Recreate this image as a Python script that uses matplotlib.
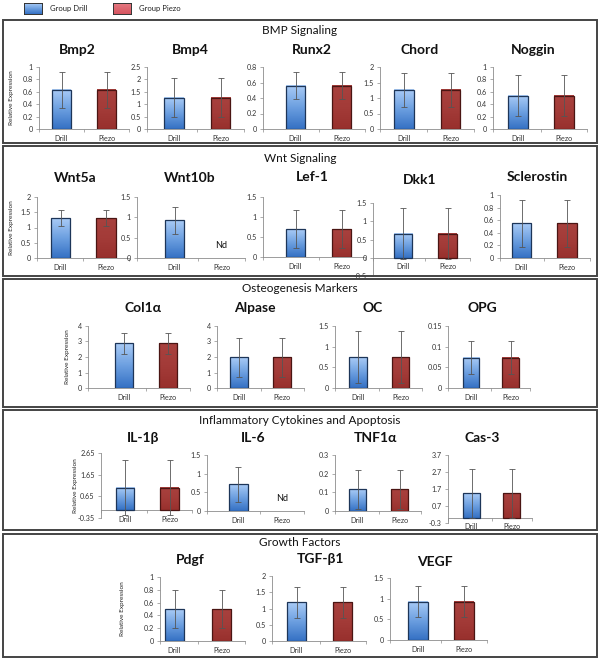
import numpy as np
import matplotlib.pyplot as plt
from matplotlib.patches import Rectangle
from matplotlib.colors import LinearSegmentedColormap

plt.rcParams['font.family'] = ['Lato', 'DejaVu Sans']

# ---- data ----
groups = ['Drill', 'Piezo']
legend_labels = ['Group Drill', 'Group Piezo']
sections = ['BMP Signaling', 'Wnt Signaling', 'Osteogenesis Markers',
            'Inflammatory Cytokines and Apoptosis', 'Growth Factors']

genes = [['Bmp2', 'Bmp4', 'Runx2', 'Chord', 'Noggin'],
         ['Wnt5a', 'Wnt10b', 'Lef-1', 'Dkk1', 'Sclerostin'],
         ['Col1α', 'Alpase', 'OC', 'OPG'],
         ['IL-1β', 'IL-6', 'TNF1α', 'Cas-3'],
         ['Pdgf', 'TGF-β1', 'VEGF']]

drill = [[0.63, 1.27, 0.56, 1.26, 0.54],
         [1.31, 0.93, 0.70, 0.66, 0.55],
         [2.90, 1.97, 0.74, 0.073],
         [1.05, 0.71, 0.116, 1.45],
         [0.50, 1.19, 0.93]]
drill_err = [[0.29, 0.78, 0.17, 0.55, 0.33],
             [0.27, 0.33, 0.47, 0.70, 0.37],
             [0.68, 1.28, 0.63, 0.040],
             [1.27, 0.48, 0.104, 1.43],
             [0.30, 0.47, 0.38]]
# None = not detected (Nd)
piezo = [[0.63, 1.27, 0.56, 1.26, 0.54],
         [1.31, None, 0.70, 0.66, 0.55],
         [2.90, 1.97, 0.74, 0.073],
         [1.05, None, 0.116, 1.45],
         [0.50, 1.19, 0.93]]
piezo_err = [[0.29, 0.78, 0.17, 0.55, 0.33],
             [0.27, None, 0.47, 0.70, 0.37],
             [0.68, 1.28, 0.63, 0.040],
             [1.27, None, 0.104, 1.43],
             [0.30, 0.47, 0.38]]

# y axis (min, max, step)
y_scale = [[(0, 1, 0.2), (0, 2.5, 0.5), (0, 0.8, 0.2), (0, 2, 0.5), (0, 1, 0.2)],
           [(0, 2, 0.5), (0, 1.5, 0.5), (0, 1.5, 0.5), (-0.5, 1.5, 0.5), (0, 1, 0.2)],
           [(0, 4, 1), (0, 4, 1), (0, 1.5, 0.5), (0, 0.15, 0.05)],
           [(-0.35, 2.65, 1), (0, 1.5, 0.5), (0, 0.3, 0.1), (-0.3, 3.7, 1)],
           [(0, 1, 0.2), (0, 2, 0.5), (0, 1.5, 0.5)]]

# ---- layout (pixels) ----
W, H = 600, 661
box_px = [(20, 143), (146, 276), (279, 407), (410, 530), (534, 657)]
section_y = [31, 158, 288, 420, 542]
ylabel_x = [12, 12, 68, 76, 123]
# (spine x, drill centre, piezo centre)
ax_x = [[(39, 61.5, 106.5), (147, 174, 220.5), (263, 295.5, 341.5), (380, 404, 450.5), (493, 518, 564)],
        [(37, 60.5, 106), (137, 174.5, 221.5), (263, 295.5, 341.5), (373, 403, 447.5), (500, 521.5, 567)],
        [(88, 124, 168), (217, 239, 282), (335, 358, 400.5), (448, 471, 510.5)],
        [(101, 125, 169.5), (207, 238.5, 282), (335, 357.5, 399.5), (448, 471.5, 511.5)],
        [(160, 174.5, 221.5), (272, 296.5, 342.5), (390, 418, 464)]]
# (top, bottom)
ax_y = [[(67, 129)] * 5,
        [(197, 258), (197, 258), (197, 257), (203, 276), (195, 258)],
        [(326, 388)] * 4,
        [(453, 518), (455, 511), (455, 511), (455, 523)],
        [(577, 641), (576, 641), (578, 640)]]
title_px = [[(77, 50), (190, 50), (312, 50), (420, 50), (533, 50)],
            [(75, 178), (190, 178), (312, 177), (420, 180), (537, 177)],
            [(143, 308), (255, 308), (373, 308), (482, 308)],
            [(143, 438), (253, 438), (375, 438), (482, 438)],
            [(190, 560), (320, 559), (435, 562)]]

blue_cm = LinearSegmentedColormap.from_list('b', ['#a9cbf6', '#6c9fe0', '#3571c4'])
red_cm = LinearSegmentedColormap.from_list('r', ['#a8413e', '#a33b38', '#98302d'])
leg_red_cm = LinearSegmentedColormap.from_list('lr', ['#e57a82', '#d65560'])
grad = np.linspace(0, 1, 64).reshape(-1, 1)
AXC = '#8c8c8c'


def fx(x):
    return x / W


def fy(y):
    return 1 - y / H


def fmt(v):
    s = f'{round(v, 4):g}'
    return '0' if s == '-0' else s


fig = plt.figure(figsize=(6, 6.61), dpi=100)

# legend
for i, (lab, cm) in enumerate(zip(legend_labels, [blue_cm, leg_red_cm])):
    x0 = 24 + i * 89
    lax = fig.add_axes([fx(x0), fy(14), fx(18), 11 / H])
    lax.imshow(grad, cmap=cm, aspect='auto', extent=(0, 1, 0, 1))
    lax.set_xticks([])
    lax.set_yticks([])
    for s in lax.spines.values():
        s.set_color('#333')
        s.set_linewidth(0.7)
    fig.text(fx(x0 + 26), fy(8.5), lab, fontsize=5.5, va='center', ha='left', color='#222')

# section boxes
for (t, b), name, sy in zip(box_px, sections, section_y):
    fig.patches.append(Rectangle((fx(3), fy(b)), fx(594), (b - t) / H, transform=fig.transFigure,
                                 fill=False, edgecolor='#444444', lw=1.4))
    fig.text(0.5, fy(sy), name, fontsize=8.5, ha='center', va='center', color='#111')

for r in range(len(genes)):
    for c, gene in enumerate(genes[r]):
        spine, cd, cp = ax_x[r][c]
        top, bot = ax_y[r][c]
        cw = cp - cd
        right = cp + cw / 2
        ax = fig.add_axes([fx(spine), fy(bot), (right - spine) / W, (bot - top) / H])
        ax.patch.set_alpha(0)
        ymin, ymax, step = y_scale[r][c]
        xl = -(cd - spine) / cw

        vals = [drill[r][c], piezo[r][c]]
        errs = [drill_err[r][c], piezo_err[r][c]]
        for k, (v, e) in enumerate(zip(vals, errs)):
            if v is None:
                ax.annotate('Nd', xy=(k, 0), xytext=(0, 6), textcoords='offset points',
                            ha='center', va='bottom', fontsize=6.5, color='#111')
                continue
            rect = ax.bar(k, v, width=0.42, facecolor='none',
                          edgecolor='#1d3558' if k == 0 else '#4a1513', lw=0.9, zorder=3)[0]
            ax.imshow(grad, cmap=blue_cm if k == 0 else red_cm, aspect='auto', zorder=2,
                      extent=(rect.get_x(), rect.get_x() + rect.get_width(), 0, v))
            ax.errorbar(k, v, yerr=e, fmt='none', ecolor='#555', elinewidth=0.6,
                        capsize=2.2, capthick=0.6, zorder=4)

        ax.set_xlim(xl, 1.5)
        ax.set_ylim(ymin, ymax)
        ticks = np.arange(ymin, ymax + step / 2, step)
        ax.set_yticks(ticks)
        ax.set_yticklabels([fmt(t) for t in ticks])
        ax.set_xticks([0, 1])
        ax.set_xticklabels(groups)
        ax.set_xticks([xl, 0.5, 1.5], minor=True)
        ax.tick_params(axis='x', which='major', length=0, labelsize=5.2, colors='#333', pad=4)
        ax.tick_params(axis='x', which='minor', length=2.5, width=0.5, color=AXC, direction='out')
        ax.tick_params(axis='y', length=2.5, width=0.5, color=AXC, labelsize=5.2,
                       labelcolor='#333', pad=2)
        for s in ['top', 'right']:
            ax.spines[s].set_visible(False)
        for s in ['left', 'bottom']:
            ax.spines[s].set_color(AXC)
            ax.spines[s].set_linewidth(0.6)
        ax.spines['bottom'].set_position(('data', 0))

        tx, ty = title_px[r][c]
        fig.text(fx(tx), fy(ty), gene, fontsize=10, fontweight='bold', ha='center',
                 va='center', color='#111')
        if c == 0:
            fig.text(fx(ylabel_x[r]), fy((top + bot) / 2), 'Relative Expression', rotation=90,
                     fontsize=4.6, ha='center', va='center', color='#222')

fig.savefig('out.png', dpi=100)
